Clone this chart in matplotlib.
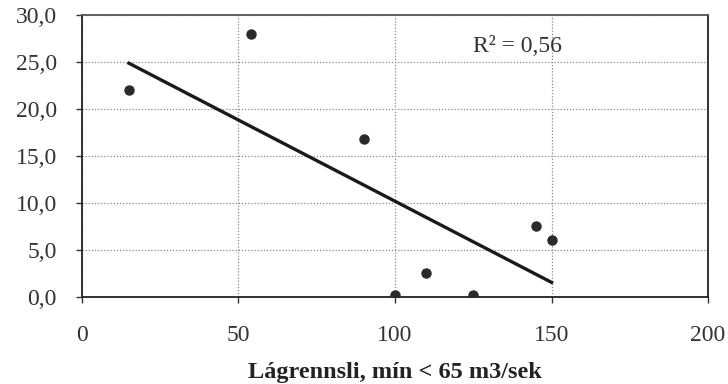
import numpy as np
import matplotlib.pyplot as plt

# lágrennsli og mælt gildi
lagrennsli = [15, 54, 90, 100, 110, 125, 145, 150]
gildi = [22.0, 28.0, 16.8, 0.2, 2.5, 0.2, 7.6, 6.1]

x = np.array(lagrennsli, dtype=float)
y = np.array(gildi, dtype=float)

# línuleg aðhvarfsgreining
a, b = np.polyfit(x, y, 1)
r2 = np.corrcoef(x, y)[0, 1] ** 2
xl = np.array([x.min(), x.max()])

plt.rcParams['font.family'] = ['Liberation Serif', 'DejaVu Serif']

fig = plt.figure(figsize=(7.28, 3.84), dpi=100)
ax = fig.add_axes([0.1126, 0.2266, 0.86, 0.7344])

ax.plot(xl, a * xl + b, color='#1a1a1a', lw=2.4, zorder=3)
ax.plot(x, y, 'o', color='#2a2a2a', ms=6.5, zorder=4)

ax.set_xlim(0, 200)
ax.set_ylim(0, 30)
ax.set_xticks([0, 50, 100, 150, 200])
ax.set_yticks(np.arange(0, 31, 5))
ax.set_yticklabels([f'{v:.1f}'.replace('.', ',') for v in np.arange(0, 31, 5)])

ax.grid(True, color='#888888', ls=(0, (1, 1.5)), lw=0.9)
ax.set_axisbelow(True)
ax.tick_params(labelsize=17, length=4, width=1, pad=14, colors='#333333')
ax.tick_params(axis='x', pad=16)
for s in ax.spines.values():
    s.set_color('#222222')
    s.set_linewidth(1.3)
ax.spines['top'].set_color('#555555')

ax.text(139, 26.6, 'R² = ' + f'{r2:.2f}'.replace('.', ','), fontsize=17,
        ha='center', va='center', color='#333333')

ax.set_xlabel('Lágrennsli, mín < 65 m3/sek', fontsize=17.5, fontweight='bold',
              labelpad=12, color='#222222')

fig.savefig('out.png', dpi=100)
